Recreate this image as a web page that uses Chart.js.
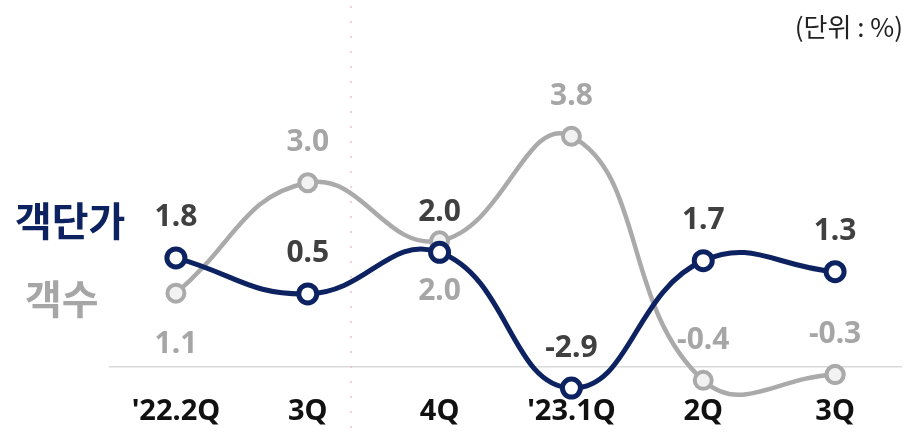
<!DOCTYPE html>
<html>
<head>
<meta charset="utf-8">
<script src="https://cdn.jsdelivr.net/npm/chart.js@4.4.1/dist/chart.umd.min.js"></script>
<style>
  html, body { margin: 0; padding: 0; background: #fff; }
  #wrap { position: relative; width: 915px; height: 434px; }
  canvas { position: absolute; left: 0; top: 0; }
  .side { position: absolute; font-family: 'Noto Sans CJK KR', 'Noto Sans', sans-serif; font-weight: 700; font-size: 40px; line-height: 1; }
  #unit { position: absolute; right: 12px; top: 7px; font-family: 'Noto Sans CJK KR', sans-serif; font-size: 26px; color: #222; }
</style>
</head>
<body>
<div id="wrap">
  <canvas id="myChart" width="915" height="434"></canvas>
  <div class="side" style="left:15px; top:199px; color:#0d2260;">객단가</div>
  <div class="side" style="left:25px; top:277px; color:#a6a6a6;">객수</div>
  <div id="unit">(단위 : %)</div>
</div>

<script>
// --- DATA ---
const quarters = ["'22.2Q", "3Q", "4Q", "'23.1Q", "2Q", "3Q"];
const pricePerCustomer = [1.8, 0.5, 2.0, -2.9, 1.7, 1.3];   // 객단가
const customerCount = [1.1, 3.0, 2.0, 3.8, -0.4, -0.3];     // 객수

// gray labels that sit under the point
const grayBelow = [0, 2];

const NAVY = '#0d2260';
const GRAY = '#aaaaaa';
const FONT = "'Noto Sans', 'Noto Sans CJK KR', sans-serif";

// --- PLUGINS ---
const dividerLine = {
    id: 'dividerLine',
    beforeDatasetsDraw(chart) {
        const ctx = chart.ctx;
        const x = chart.scales.x.getPixelForValue(1.33);
        ctx.save();
        ctx.fillStyle = 'rgba(235, 190, 205, 0.7)';
        for (let y = 6; y < chart.height; y += 15) {
            ctx.fillRect(Math.round(x) - 1, y, 2, 2);
        }
        ctx.restore();
    }
};

const valueLabels = {
    id: 'valueLabels',
    afterDatasetsDraw(chart) {
        const ctx = chart.ctx;
        const area = chart.chartArea;
        const whole = { left: 0, top: 0, right: chart.width, bottom: chart.height };

        // points under the baseline are skipped by chart.js, draw them again
        chart.data.datasets.forEach((ds, di) => {
            chart.getDatasetMeta(di).data.forEach(pt => {
                if (pt.y > area.bottom) pt.draw(ctx, whole);
            });
        });

        ctx.save();
        ctx.font = "bold 30px " + FONT;
        ctx.textAlign = 'center';
        ctx.textBaseline = 'middle';
        chart.data.datasets.forEach((ds, di) => {
            const meta = chart.getDatasetMeta(di);
            meta.data.forEach((pt, i) => {
                const txt = ds.data[i].toFixed(1);
                let y = pt.y - 40;
                if (di === 1 && grayBelow.includes(i)) y = pt.y + 51;
                ctx.fillStyle = di === 0 ? '#404040' : '#a6a6a6';
                ctx.fillText(txt, pt.x, y);
            });
        });
        ctx.restore();
    }
};

// --- CHART ---
const ctx = document.getElementById('myChart').getContext('2d');

new Chart(ctx, {
    type: 'line',
    data: {
        labels: quarters,
        datasets: [
            {
                label: '객단가',
                data: pricePerCustomer,
                yAxisID: 'y',
                borderColor: NAVY,
                borderWidth: 5,
                pointRadius: 9,
                pointBorderWidth: 5,
                pointBackgroundColor: '#ffffff',
                pointBorderColor: NAVY,
                tension: 0.45,
                clip: false
            },
            {
                label: '객수',
                data: customerCount,
                yAxisID: 'y2',
                borderColor: GRAY,
                borderWidth: 4.5,
                pointRadius: 8.5,
                pointBorderWidth: 4,
                pointBackgroundColor: '#f2f2f2',
                pointBorderColor: GRAY,
                tension: 0.45,
                clip: false
            }
        ]
    },
    options: {
        responsive: false,
        animation: false,
        layout: { padding: { left: 110, right: 5, top: 20, bottom: 0 } },
        plugins: {
            legend: { display: false },
            tooltip: { enabled: false }
        },
        scales: {
            x: {
                offset: true,
                afterFit: (scale) => { scale.height = 67; },
                grid: { display: false, drawTicks: false },
                border: { display: true, color: '#d9d9d9', width: 1.5 },
                ticks: {
                    color: '#111',
                    padding: 27,
                    font: { family: FONT, size: 29, weight: 'bold' }
                }
            },
            y: { display: false, min: -2.14, max: 10.39 },
            y2: { display: false, min: -0.17, max: 5.8 }
        }
    },
    plugins: [dividerLine, valueLabels]
});
</script>
</body>
</html>
